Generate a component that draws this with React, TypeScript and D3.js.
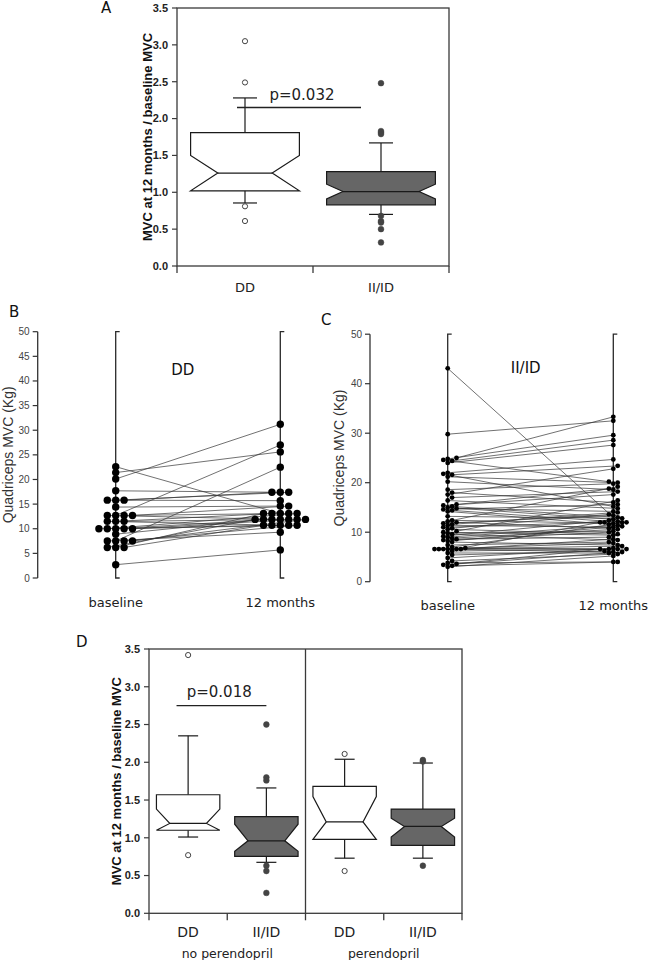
import * as d3 from 'd3';
import { useEffect, useRef } from 'react';

const W = 650;
const H = 960;

const genotypes = ['DD', 'II/ID'];
const ratioTicks = [0, 0.5, 1, 1.5, 2, 2.5, 3, 3.5];
const ratioTitle = 'MVC at 12 months / baseline MVC';

// A - MVC ratio by genotype
const aWhiskerLow = [0.855, 0.7];
const aQ1 = [1.02, 0.83];
const aNotchLow = [1.02, 0.91];
const aMedian = [1.26, 1.01];
const aNotchHigh = [1.5, 1.11];
const aQ3 = [1.81, 1.28];
const aWhiskerHigh = [2.28, 1.67];
const aOutliers = [
  [3.05, 2.49, 0.81, 0.61],
  [2.48, 1.83, 1.81, 1.79, 0.68, 0.61, 0.59, 0.5, 0.32]
];
const aPText = 'p=0.032';
const aPLevel = 2.15;

// B / C - paired quadriceps MVC
const timepoints = ['baseline', '12 months'];
const quadTitle = 'Quadriceps MVC (Kg)';
const bTicks = [0, 5, 10, 15, 20, 25, 30, 35, 40, 45, 50];
const cTicks = [0, 10, 20, 30, 40, 50];

const ddBaseline = [22.6, 21.4, 20.1, 17.7, 15.8, 15.8, 15.8, 14.4, 12.7, 12.7, 12.7, 12.7, 11.5, 11.5, 11.5,
  10.0, 10.0, 10.0, 10.0, 10.0, 8.9, 7.5, 7.5, 7.5, 7.5, 6.2, 6.2, 6.2, 2.7];
const dd12Months = [13.1, 25.6, 31.2, 17.4, 17.4, 17.4, 15.7, 14.6, 27.0, 13.1, 11.9, 14.6, 13.1, 11.9, 10.7,
  11.9, 10.7, 13.1, 11.9, 10.7, 11.9, 22.5, 10.7, 9.3, 11.9, 13.1, 10.7, 11.9, 5.7];

const iiBaseline = [43.1, 29.8, 25.0, 24.8, 24.6, 24.4, 24.0, 22.0, 21.8, 21.6, 21.2, 20.2, 18.6, 18.0, 17.6,
  17.0, 16.4, 15.6, 15.4, 15.2, 15.0, 14.8, 14.6, 14.4, 14.2, 13.2, 12.4, 12.2, 12.0, 11.8,
  11.6, 11.4, 11.0, 10.8, 10.6, 10.2, 10.0, 9.8, 9.6, 9.2, 9.0, 8.8, 8.6, 8.4, 8.2,
  8.0, 7.4, 7.0, 6.8, 6.6, 6.6, 6.6, 6.6, 6.6, 6.6, 6.2, 5.8, 5.4, 4.8, 4.2,
  3.8, 3.6, 3.4, 3.2, 3.0];
const ii12Months = [12.2, 32.5, 33.3, 29.6, 20.2, 28.6, 27.6, 24.7, 15.2, 23.4, 20.0, 18.6, 19.8, 16.0, 22.8,
  18.2, 14.8, 18.8, 17.6, 13.0, 12.6, 14.2, 15.6, 12.0, 11.6, 12.8, 11.8, 19.2, 10.8, 13.4,
  14.0, 11.0, 12.0, 13.6, 9.6, 16.4, 9.4, 10.2, 8.4, 12.4, 11.4, 10.6, 9.0, 10.0, 11.2,
  7.4, 8.0, 12.0, 6.6, 7.2, 6.6, 12.0, 6.0, 8.6, 7.8, 6.6, 5.8, 6.2, 6.6, 5.6,
  4.0, 6.8, 6.0, 4.0, 5.2];

// D - ratio by treatment and genotype (order: no-per DD, no-per II/ID, per DD, per II/ID)
const treatments = ['no perendopril', 'perendopril'];
const dWhiskerLow = [1.01, 0.675, 0.73, 0.73];
const dQ1 = [1.1, 0.755, 0.98, 0.9];
const dNotchLow = [1.1, 0.82, 0.98, 1.01];
const dMedian = [1.19, 0.96, 1.21, 1.15];
const dNotchHigh = [1.38, 1.18, 1.545, 1.26];
const dQ3 = [1.57, 1.28, 1.68, 1.38];
const dWhiskerHigh = [2.35, 1.66, 2.04, 1.99];
const dOutliers = [
  [3.42, 0.77],
  [2.5, 1.8, 1.76, 0.63, 0.56, 0.27],
  [2.11, 0.56],
  [2.03, 2.01, 0.63]
];
const dPText = 'p=0.018';
const dPLevel = 2.75;

const LABEL_FONT = "'DejaVu Sans', sans-serif";
const AXIS_FONT = "'Liberation Sans', Arial, sans-serif";

function drawBox(g, cx, y, s, o) {
  const L = cx - o.hw, R = cx + o.hw, il = cx - o.ih, ir = cx + o.ih;
  const stroke = '#1a1a1a';
  const seg = (x1, y1, x2, y2) =>
    g.append('line').attr('x1', x1).attr('y1', y1).attr('x2', x2).attr('y2', y2)
      .attr('stroke', stroke).attr('stroke-width', 1.2);

  // whiskers
  seg(cx, y(s.q3), cx, y(s.hi));
  seg(cx - o.cap, y(s.hi), cx + o.cap, y(s.hi));
  seg(cx, y(s.q1), cx, y(s.lo));
  seg(cx - o.cap, y(s.lo), cx + o.cap, y(s.lo));

  // notched box
  const pts = [
    [L, y(s.q3)], [R, y(s.q3)], [R, y(s.nhi)], [ir, y(s.med)], [R, y(s.nlo)], [R, y(s.q1)],
    [L, y(s.q1)], [L, y(s.nlo)], [il, y(s.med)], [L, y(s.nhi)]
  ];
  g.append('path')
    .attr('d', d3.line()(pts) + 'Z')
    .attr('fill', o.fill)
    .attr('stroke', stroke)
    .attr('stroke-width', 1.2)
    .attr('stroke-linejoin', 'miter');
  seg(il, y(s.med), ir, y(s.med));

  // outliers
  g.selectAll(null)
    .data(s.out)
    .enter()
    .append('circle')
    .attr('cx', cx)
    .attr('cy', (d) => y(d))
    .attr('r', o.open ? 2.6 : 2.9)
    .attr('fill', o.open ? '#fff' : '#444')
    .attr('stroke', '#444')
    .attr('stroke-width', o.open ? 1 : 0.5);
}

function drawRatioFrame(svg, y, x0, x1, tickXs, titleX) {
  const [yBot, yTop] = y.range();
  svg.append('rect')
    .attr('x', x0).attr('y', yTop)
    .attr('width', x1 - x0).attr('height', yBot - yTop)
    .attr('fill', 'none').attr('stroke', '#3a3a3a').attr('stroke-width', 1.3);

  // y ticks + labels
  ratioTicks.forEach((t) => {
    svg.append('line')
      .attr('x1', x0 - 5).attr('x2', x0).attr('y1', y(t)).attr('y2', y(t))
      .attr('stroke', '#3a3a3a').attr('stroke-width', 1.2);
    svg.append('text')
      .attr('x', x0 - 9).attr('y', y(t)).attr('dy', '0.35em')
      .attr('text-anchor', 'end')
      .attr('font-family', AXIS_FONT).attr('font-weight', 'bold').attr('font-size', 11)
      .attr('fill', '#222')
      .text(d3.format('.1f')(t));
  });

  // bottom ticks
  tickXs.forEach((tx) => {
    svg.append('line')
      .attr('x1', tx).attr('x2', tx).attr('y1', yBot).attr('y2', yBot + 7)
      .attr('stroke', '#3a3a3a').attr('stroke-width', 1.3);
  });

  svg.append('text')
    .attr('transform', `translate(${titleX},${(yBot + yTop) / 2}) rotate(-90)`)
    .attr('dy', '0.35em')
    .attr('text-anchor', 'middle')
    .attr('font-family', AXIS_FONT).attr('font-weight', 'bold').attr('font-size', 13)
    .attr('fill', '#111')
    .text(ratioTitle);
}

// simple beeswarm: horizontal offsets so dots don't overlap too much
function swarm(values, y, r, step) {
  const order = d3.range(values.length).sort((a, b) => values[a] - values[b]);
  const placed = [];
  const offsets = new Array(values.length).fill(0);
  for (const i of order) {
    const yi = y(values[i]);
    for (let k = 0; k < 40; k++) {
      const dx = k === 0 ? 0 : Math.ceil(k / 2) * step * (k % 2 ? 1 : -1);
      if (placed.every((p) => Math.hypot(p.x - dx, p.y - yi) >= r * 1.4)) {
        offsets[i] = dx;
        placed.push({ x: dx, y: yi });
        break;
      }
    }
  }
  return offsets;
}

function drawPaired(svg, cfg) {
  const y = d3.scaleLinear().domain([0, 50]).range([cfg.bottom, cfg.top]);
  const x = d3.scalePoint().domain(timepoints).range([cfg.xBase, cfg.x12]);

  // y axis
  svg.append('line')
    .attr('x1', cfg.axisX).attr('x2', cfg.axisX).attr('y1', y(0)).attr('y2', y(50))
    .attr('stroke', '#333').attr('stroke-width', 1.3);
  cfg.ticks.forEach((t) => {
    svg.append('line')
      .attr('x1', cfg.axisX - 5).attr('x2', cfg.axisX).attr('y1', y(t)).attr('y2', y(t))
      .attr('stroke', '#333').attr('stroke-width', 1.2);
    svg.append('text')
      .attr('x', cfg.axisX - 8).attr('y', y(t)).attr('dy', '0.35em')
      .attr('text-anchor', 'end')
      .attr('font-family', AXIS_FONT).attr('font-size', 10)
      .attr('fill', '#444')
      .text(t);
  });
  svg.append('text')
    .attr('transform', `translate(${cfg.titleX},${(y(0) + y(50)) / 2}) rotate(-90)`)
    .attr('dy', '0.35em')
    .attr('text-anchor', 'middle')
    .attr('font-family', AXIS_FONT).attr('font-size', 14)
    .attr('fill', '#333')
    .text(quadTitle);

  // range lines at each time point
  timepoints.forEach((t) => {
    const tx = x(t);
    svg.append('path')
      .attr('d', `M${tx + 4},${y(50)}H${tx}V${y(0)}H${tx + 4}`)
      .attr('fill', 'none').attr('stroke', '#2a2a2a').attr('stroke-width', 1.3);
    svg.append('text')
      .attr('x', tx).attr('y', cfg.labelY)
      .attr('text-anchor', 'middle')
      .attr('font-family', LABEL_FONT).attr('font-size', 13)
      .attr('fill', '#222')
      .text(t);
  });

  const off0 = swarm(cfg.before, y, cfg.r, cfg.step);
  const off1 = swarm(cfg.after, y, cfg.r, cfg.step);
  const line = d3.line();

  cfg.before.forEach((v, i) => {
    svg.append('path')
      .attr('d', line([[x('baseline') + off0[i], y(v)], [x('12 months') + off1[i], y(cfg.after[i])]]))
      .attr('stroke', '#333').attr('stroke-width', 0.7).attr('fill', 'none');
  });

  const dots = [
    ...cfg.before.map((v, i) => [x('baseline') + off0[i], y(v)]),
    ...cfg.after.map((v, i) => [x('12 months') + off1[i], y(v)])
  ];
  svg.append('g')
    .selectAll('circle')
    .data(dots)
    .enter()
    .append('circle')
    .attr('cx', (d) => d[0])
    .attr('cy', (d) => d[1])
    .attr('r', cfg.r)
    .attr('fill', '#000');

  svg.append('text')
    .attr('x', cfg.groupX).attr('y', cfg.groupY)
    .attr('text-anchor', 'middle')
    .attr('font-family', LABEL_FONT).attr('font-size', 15)
    .attr('fill', '#111')
    .text(cfg.group);
}

function panelLetter(svg, letter, x, y) {
  svg.append('text')
    .attr('x', x).attr('y', y)
    .attr('font-family', LABEL_FONT).attr('font-size', 15)
    .attr('fill', '#111')
    .text(letter);
}

export default function App() {
  const ref = useRef(null);

  useEffect(() => {
    const svg = d3.select(ref.current);
    svg.selectAll('*').remove();

    // ---------- A ----------
    {
      const x0 = 177, x1 = 449;
      const y = d3.scaleLinear().domain([0, 3.5]).range([266, 8]);
      const x = d3.scaleBand().domain(genotypes).range([x0, x1]);
      const bw = x.bandwidth();
      drawRatioFrame(svg, y, x0, x1, [x0, x0 + bw, x1], 147);
      const notch = [0.5, 0.7];
      genotypes.forEach((gt, i) => {
        const cx = x(gt) + bw / 2;
        drawBox(svg, cx, y, {
          lo: aWhiskerLow[i], q1: aQ1[i], nlo: aNotchLow[i], med: aMedian[i],
          nhi: aNotchHigh[i], q3: aQ3[i], hi: aWhiskerHigh[i], out: aOutliers[i]
        }, { hw: bw * 0.4, ih: bw * 0.4 * notch[i], cap: 12, fill: i ? '#666' : '#fff', open: i === 0 });
        svg.append('text')
          .attr('x', cx).attr('y', 292)
          .attr('text-anchor', 'middle')
          .attr('font-family', LABEL_FONT).attr('font-size', 13)
          .attr('fill', '#222')
          .text(gt);
      });
      const c0 = x('DD') + bw / 2, c1 = x('II/ID') + bw / 2;
      svg.append('line')
        .attr('x1', c0 - 8).attr('x2', c1 - 20).attr('y1', y(aPLevel)).attr('y2', y(aPLevel))
        .attr('stroke', '#222').attr('stroke-width', 1.3);
      svg.append('text')
        .attr('x', (c0 + c1) / 2 - 11).attr('y', y(aPLevel) - 8)
        .attr('text-anchor', 'middle')
        .attr('font-family', LABEL_FONT).attr('font-size', 15)
        .attr('fill', '#222')
        .text(aPText);
      panelLetter(svg, 'A', 101, 13);
    }

    // ---------- B ----------
    drawPaired(svg, {
      top: 331.7, bottom: 578, axisX: 37.7, ticks: bTicks, titleX: 8,
      xBase: 115.7, x12: 280.3, labelY: 607, before: ddBaseline, after: dd12Months,
      r: 3.7, step: 8.4, group: 'DD', groupX: 182.7, groupY: 375
    });
    panelLetter(svg, 'B', 9, 317);

    // ---------- C ----------
    drawPaired(svg, {
      top: 334.2, bottom: 581.7, axisX: 370, ticks: cTicks, titleX: 339,
      xBase: 447.7, x12: 613.3, labelY: 610, before: iiBaseline, after: ii12Months,
      r: 2.4, step: 4.4, group: 'II/ID', groupX: 525.7, groupY: 373
    });
    panelLetter(svg, 'C', 321, 325);

    // ---------- D ----------
    {
      const x0 = 149, x1 = 462;
      const y = d3.scaleLinear().domain([0, 3.5]).range([913.3, 649]);
      const outer = d3.scaleBand().domain(treatments).range([x0, x1]);
      const inner = d3.scaleBand().domain(genotypes).range([0, outer.bandwidth()]);
      const bw = inner.bandwidth();
      const tickXs = [];
      treatments.forEach((tr) => genotypes.forEach((gt) => tickXs.push(outer(tr) + inner(gt))));
      tickXs.push(x1);
      drawRatioFrame(svg, y, x0, x1, tickXs, 116.5);

      // divider between treatment groups
      svg.append('line')
        .attr('x1', outer('perendopril')).attr('x2', outer('perendopril'))
        .attr('y1', y(3.5)).attr('y2', y(0))
        .attr('stroke', '#3a3a3a').attr('stroke-width', 1.3);

      const centers = [];
      treatments.forEach((tr, ti) => {
        genotypes.forEach((gt, gi) => {
          const i = ti * 2 + gi;
          const cx = outer(tr) + inner(gt) + bw / 2;
          centers.push(cx);
          drawBox(svg, cx, y, {
            lo: dWhiskerLow[i], q1: dQ1[i], nlo: dNotchLow[i], med: dMedian[i],
            nhi: dNotchHigh[i], q3: dQ3[i], hi: dWhiskerHigh[i], out: dOutliers[i]
          }, { hw: bw * 0.405, ih: bw * 0.405 * 0.58, cap: 10, fill: gi ? '#666' : '#fff', open: gi === 0 });
          svg.append('text')
            .attr('x', cx).attr('y', 937)
            .attr('text-anchor', 'middle')
            .attr('font-family', LABEL_FONT).attr('font-size', 14)
            .attr('fill', '#222')
            .text(gt);
        });
        svg.append('text')
          .attr('x', outer(tr) + outer.bandwidth() / 2).attr('y', 958)
          .attr('text-anchor', 'middle')
          .attr('font-family', LABEL_FONT).attr('font-size', 12.5)
          .attr('fill', '#222')
          .text(tr);
      });

      svg.append('line')
        .attr('x1', centers[0] - 11.6).attr('x2', centers[1]).attr('y1', y(dPLevel)).attr('y2', y(dPLevel))
        .attr('stroke', '#222').attr('stroke-width', 1.3);
      svg.append('text')
        .attr('x', (centers[0] + centers[1]) / 2 - 8).attr('y', y(dPLevel) - 9)
        .attr('text-anchor', 'middle')
        .attr('font-family', LABEL_FONT).attr('font-size', 15)
        .attr('fill', '#222')
        .text(dPText);
      panelLetter(svg, 'D', 76, 647);
    }
  }, []);

  return (
    <div style={{ position: 'absolute', left: 0, top: 0, width: W, height: H, background: '#fff' }}>
      <svg ref={ref} width={W} height={H} style={{ display: 'block' }}></svg>
    </div>
  );
}
